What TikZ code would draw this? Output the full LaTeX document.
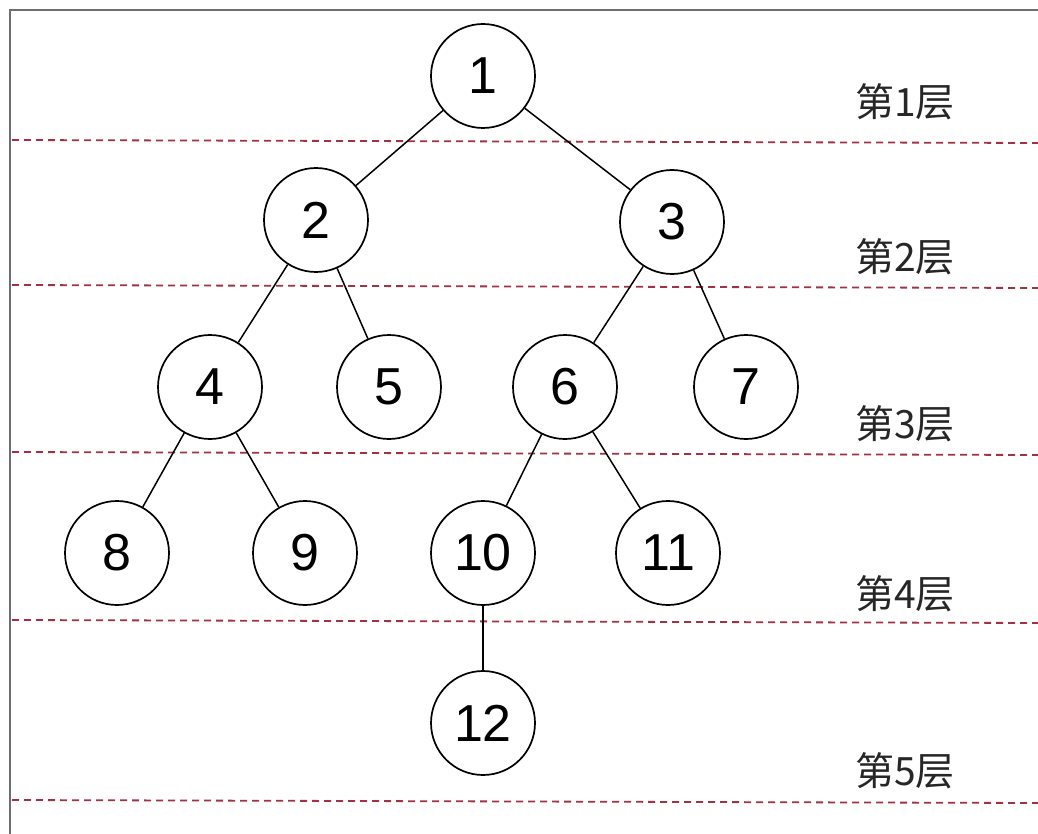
\documentclass[tikz,border=0pt]{standalone}
\usepackage{fontspec}
\setmainfont{Liberation Sans}
\newfontfamily\cjk{Noto Sans CJK SC}
\definecolor{dashred}{RGB}{160,50,70}
\definecolor{framegray}{RGB}{110,110,110}
\tikzset{
  treenode/.style={circle,draw=black,line width=1.7pt,minimum size=104pt,inner sep=0pt,fill=white,font=\fontsize{52}{52}\selectfont},
  edge/.style={draw=black,line width=1.5pt},
  levelline/.style={draw=dashred,line width=1.8pt,dash pattern=on 7pt off 5pt},
  levellabel/.style={font=\cjk\fontsize{39}{39}\selectfont,text=black!85},
}
\begin{document}
\begin{tikzpicture}[x=1pt,y=-1pt]
\useasboundingbox (0,0) rectangle (1038,834);
\fill[white] (0,0) rectangle (1038,834);
% frame
\draw[framegray,line width=2pt] (10,834) -- (10,10) -- (1038,10);
% level lines
\coordinate (l1a) at (12,140); \coordinate (l1b) at (1038,143);
\coordinate (l2a) at (12,285); \coordinate (l2b) at (1038,288);
\coordinate (l3a) at (12,452); \coordinate (l3b) at (1038,455);
\coordinate (l4a) at (12,620); \coordinate (l4b) at (1038,623);
\coordinate (l5a) at (12,800); \coordinate (l5b) at (1038,803);
\draw[levelline] (l1a) -- (l1b);
\draw[levelline] (l2a) -- (l2b);
\draw[levelline] (l3a) -- (l3b);
\draw[levelline] (l4a) -- (l4b);
\draw[levelline] (l5a) -- (l5b);
% labels
\node[levellabel] (t1) at (905,102) {第1层};
\node[levellabel] (t2) at (905,257) {第2层};
\node[levellabel] (t3) at (905,424) {第3层};
\node[levellabel] (t4) at (905,594) {第4层};
\node[levellabel] (t5) at (905,771) {第5层};
% nodes
\node[treenode] (n1) at (483,76) {1};
\node[treenode] (n2) at (316,220) {2};
\node[treenode] (n3) at (672,222) {3};
\node[treenode] (n4) at (210,387) {4};
\node[treenode] (n5) at (389,387) {5};
\node[treenode] (n6) at (565,387) {6};
\node[treenode] (n7) at (746,387) {7};
\node[treenode] (n8) at (117,553) {8};
\node[treenode] (n9) at (305,553) {9};
\node[treenode] (n10) at (483,553) {10};
\node[treenode] (n11) at (668,553) {11};
\node[treenode] (n12) at (483,723) {12};
% edges
\draw[edge] (n1) -- (n2);
\draw[edge] (n1) -- (n3);
\draw[edge] (n2) -- (n4);
\draw[edge] (n2) -- (n5);
\draw[edge] (n3) -- (n6);
\draw[edge] (n3) -- (n7);
\draw[edge] (n4) -- (n8);
\draw[edge] (n4) -- (n9);
\draw[edge] (n6) -- (n10);
\draw[edge] (n6) -- (n11);
\draw[edge] (n10) -- (n12);
\end{tikzpicture}
\end{document}
